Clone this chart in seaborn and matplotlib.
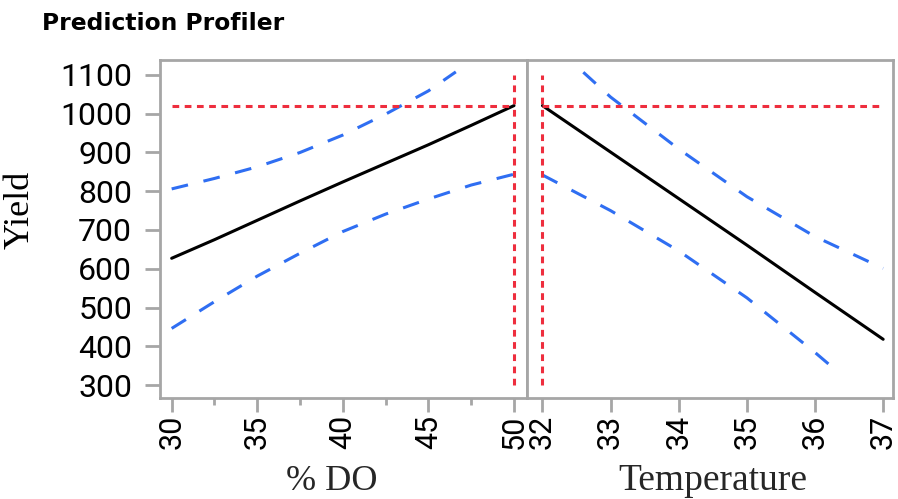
import matplotlib
matplotlib.use("Agg")
import matplotlib.pyplot as plt
import seaborn as sns
from matplotlib.ticker import MultipleLocator

# profile values
do_x = [30, 32.5, 35, 37.5, 40, 42.5, 45, 47.5, 50]
do_pred = [627, 675, 725, 775, 824, 872, 920, 970, 1021]
do_low = [446, 515, 581, 640, 696, 741, 780, 816, 844]
do_up_x = [30, 32.5, 35, 37.5, 40, 42.5, 45, 46.6]
do_up = [806, 833, 863, 900, 945, 999, 1059, 1108]

temp_x = [32, 33, 34, 35, 36, 37]
temp_pred = [1021, 901, 781, 661, 539, 418]
temp_up_x = [32.6, 33, 34, 35, 36, 37]
temp_up = [1107, 1043, 909, 786, 683, 601]
temp_low_x = [32, 33, 34, 35, 36, 36.3]
temp_low = [842, 750, 646, 525, 384, 339]

current_do = 50
current_temp = 32
current_yield = 1021

y_ticks = [300, 400, 500, 600, 700, 800, 900, 1000, 1100]
do_ticks = [30, 35, 40, 45, 50]
temp_ticks = [32, 33, 34, 35, 36, 37]

sns.set_style("white")
plt.rcParams["font.family"] = ["Liberation Sans Narrow", "Roboto", "DejaVu Sans"]
plt.rcParams["text.color"] = "black"

gray = "#a6a6a6"
blue = "#2f6ef2"
red = "#ee2e3e"

fig = plt.figure(figsize=(8.98, 4.99), dpi=100)
ax1 = fig.add_axes([0.1782, 0.2018, 0.4087, 0.678])
ax2 = fig.add_axes([0.5869, 0.2018, 0.4072, 0.678], sharey=ax1)

def draw(ax, x, pred, lx, low, ux, up, cur_x, xr):
    sns.lineplot(x=x, y=pred, ax=ax, color="black", lw=2.2)
    sns.lineplot(x=lx, y=low, ax=ax, color=blue, lw=2.2).lines[-1].set_dashes((5.5, 5.2))
    sns.lineplot(x=ux, y=up, ax=ax, color=blue, lw=2.2).lines[-1].set_dashes((5.5, 5.2))
    ax.hlines(current_yield, xr[0], xr[1], colors=red, lw=2.2, linestyles=(0, (2.2, 1.8)))
    ax.vlines(cur_x, 300, 1100, colors=red, lw=2.2, linestyles=(0, (2.2, 1.8)))

draw(ax1, do_x, do_pred, do_x, do_low, do_up_x, do_up, current_do, (30, 50))
draw(ax2, temp_x, temp_pred, temp_low_x, temp_low, temp_up_x, temp_up, current_temp, (32, 37))

ax1.set_xlim(29.32, 50.76)
ax2.set_xlim(31.774, 37.14)
ax1.set_ylim(265.7, 1138.7)

ax1.set_xticks(do_ticks)
ax1.xaxis.set_minor_locator(MultipleLocator(2.5))
ax2.set_xticks(temp_ticks)
ax1.set_yticks(y_ticks)

for ax in (ax1, ax2):
    for s in ax.spines.values():
        s.set_color(gray)
        s.set_linewidth(2)
    ax.tick_params(axis="x", which="major", bottom=True, length=10, width=2, color=gray,
                   labelsize=22, labelrotation=90, pad=2, labelcolor="black")
    ax.tick_params(axis="x", which="minor", bottom=True, length=5, width=2, color=gray)
    ax.grid(False)

ax1.tick_params(axis="y", left=True, length=11, width=2, color=gray, labelsize=23,
                pad=9, labelcolor="black")
ax2.tick_params(axis="y", left=False, labelleft=False)

serif = "Liberation Serif"
ax1.set_xlabel("% DO", family=serif, fontsize=26, va="baseline")
ax1.xaxis.set_label_coords(0.469, -0.271)
ax2.set_xlabel("Temperature", family=serif, fontsize=27, va="baseline")
ax2.xaxis.set_label_coords(0.507, -0.271)
ax1.set_ylabel("")
fig.text(20 / 898, 0.579, "Yield", rotation=90, family=serif, fontsize=26,
         ha="center", va="center")

fig.text(42 / 898, 1 - 30 / 499, "Prediction Profiler", family="DejaVu Sans",
         fontweight="bold", fontsize=16.8, va="baseline", ha="left")

fig.savefig("out.png", dpi=100)
